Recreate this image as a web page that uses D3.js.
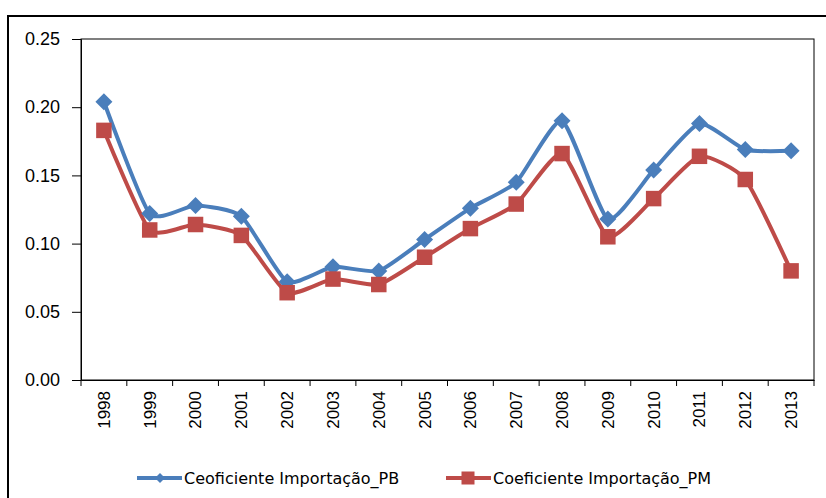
<!DOCTYPE html>
<html>
<head>
<meta charset="utf-8">
<script src="https://cdn.jsdelivr.net/npm/d3@7"></script>
<style>
  body { margin: 0; background: #fff; }
  svg { display: block; }
</style>
</head>
<body>
<div id="chart"></div>
<script>
// data
const years = ['1998','1999','2000','2001','2002','2003','2004','2005','2006','2007','2008','2009','2010','2011','2012','2013'];
const coefPB = [0.204,0.122,0.128,0.120,0.072,0.083,0.080,0.103,0.126,0.145,0.190,0.118,0.154,0.188,0.169,0.168];
const coefPM = [0.183,0.110,0.114,0.106,0.064,0.074,0.070,0.090,0.111,0.129,0.166,0.105,0.133,0.164,0.147,0.080];
const yTicks = [0, 0.05, 0.10, 0.15, 0.20, 0.25];
const seriesNames = ['Ceoficiente Importação_PB', 'Coeficiente Importação_PM'];

const W = 826, H = 498;
const margin = {top: 39, right: 12, bottom: 118, left: 81};
const width = W - margin.left - margin.right,
      height = H - margin.top - margin.bottom;

const blue = '#4a7ebb', red = '#be4b48';

const svg = d3.select('#chart').append('svg')
    .attr('width', W).attr('height', H);

// outer chart frame
svg.append('rect')
    .attr('x', 8).attr('y', 16)
    .attr('width', 840).attr('height', 500)
    .attr('fill', 'none').attr('stroke', '#000').attr('stroke-width', 2);

const g = svg.append('g')
    .attr('transform', 'translate(' + margin.left + ',' + margin.top + ')');

const x = d3.scaleBand().domain(years).range([0, width]);
const y = d3.scaleLinear().domain([0, 0.25]).range([height, 0]);

// plot frame
g.append('rect')
    .attr('width', width).attr('height', height)
    .attr('fill', 'none').attr('stroke', '#000').attr('stroke-width', 1);

// Y axis
const yAxis = g.append('g')
    .call(d3.axisLeft(y).tickValues(yTicks).tickFormat(d3.format('.2f')).tickSize(9).tickPadding(12));
yAxis.select('.domain').attr('stroke', '#000');
yAxis.selectAll('text')
    .style('font-family', 'Liberation Sans, Arial, sans-serif')
    .style('font-size', '18px')
    .attr('fill', '#000');

// X axis: ticks between categories
const xAxis = g.append('g')
    .attr('transform', 'translate(0,' + height + ')')
    .call(d3.axisBottom(x).tickSize(0).tickPadding(0));
xAxis.select('.domain').attr('stroke', '#000');
xAxis.selectAll('text')
    .style('font-family', 'Liberation Sans, Arial, sans-serif')
    .style('font-size', '17px')
    .attr('fill', '#000')
    .attr('text-anchor', 'end')
    .attr('dy', '0.35em')
    .attr('transform', 'translate(0,11) rotate(-90)');

const sepX = years.map(d => x(d)).concat([width]);
g.append('g').selectAll('line')
    .data(sepX)
    .enter().append('line')
      .attr('x1', d => d).attr('x2', d => d)
      .attr('y1', height).attr('y2', height + 6)
      .attr('stroke', '#000');

const cx = d => x(d) + x.bandwidth() / 2;

const line = d3.line()
    .curve(d3.curveCardinal.tension(0.45))
    .x((d, i) => cx(years[i]))
    .y(d => y(d));

// PB series
g.append('path')
    .datum(coefPB)
    .attr('d', line)
    .attr('fill', 'none').attr('stroke', blue).attr('stroke-width', 4);

// PM series
g.append('path')
    .datum(coefPM)
    .attr('d', line)
    .attr('fill', 'none').attr('stroke', red).attr('stroke-width', 4);

const diamond = s => 'M0,' + (-s) + 'L' + s + ',0L0,' + s + 'L' + (-s) + ',0Z';

g.selectAll('.dPB')
    .data(coefPB)
    .enter().append('path')
      .attr('class', 'dPB')
      .attr('d', diamond(8.5))
      .attr('transform', (d, i) => 'translate(' + cx(years[i]) + ',' + y(d) + ')')
      .attr('fill', blue);

const sq = 15.5;
g.selectAll('.sPM')
    .data(coefPM)
    .enter().append('rect')
      .attr('class', 'sPM')
      .attr('x', (d, i) => cx(years[i]) - sq / 2)
      .attr('y', d => y(d) - sq / 2)
      .attr('width', sq).attr('height', sq)
      .attr('fill', red);

// legend
const legend = svg.append('g').attr('transform', 'translate(0,478)');
const legItems = [
  {name: seriesNames[0], color: blue, x: 137, shape: 'diamond'},
  {name: seriesNames[1], color: red, x: 446, shape: 'square'}
];
legItems.forEach(function(it) {
  legend.append('line')
      .attr('x1', it.x).attr('x2', it.x + 45)
      .attr('y1', 0).attr('y2', 0)
      .attr('stroke', it.color).attr('stroke-width', 4);
  if (it.shape === 'diamond') {
    legend.append('path')
        .attr('d', diamond(5))
        .attr('transform', 'translate(' + (it.x + 23) + ',0)')
        .attr('fill', it.color);
  } else {
    legend.append('rect')
        .attr('x', it.x + 22 - 6.5).attr('y', -6.5)
        .attr('width', 13).attr('height', 13)
        .attr('fill', it.color);
  }
  legend.append('text')
      .attr('x', it.x + 47).attr('y', 0)
      .attr('dy', '0.35em')
      .style('font-family', 'DejaVu Sans, Verdana, sans-serif')
      .style('font-size', '16px')
      .attr('fill', '#000')
      .text(it.name);
});
</script>
</body>
</html>
